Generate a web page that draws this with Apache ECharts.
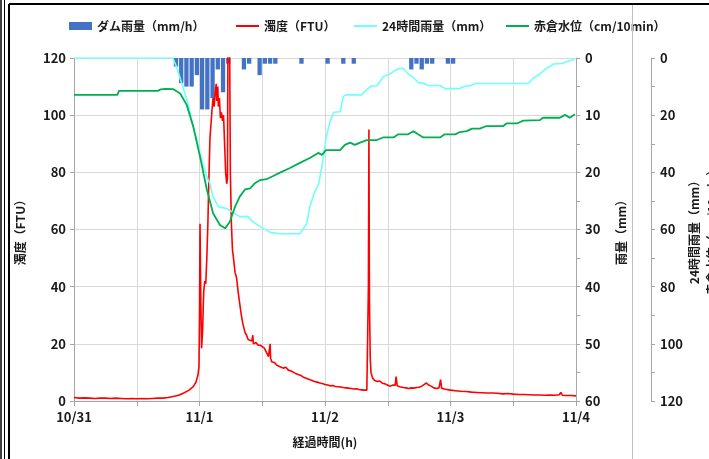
<!DOCTYPE html>
<html>
<head>
<meta charset="utf-8">
<script src="https://cdn.jsdelivr.net/npm/echarts@6/dist/echarts.min.js"></script>
<style>
  html, body { margin: 0; padding: 0; background: #fff; }
  #chart { width: 709px; height: 459px; }
</style>
</head>
<body>
<div id="chart"></div>
<script>
// X axis: hours elapsed since 10/31 00:00, labelled once a day
const dateLabels = ['10/31', '11/1', '11/2', '11/3', '11/4'];

// Hourly dam rainfall (mm/h): hour index and amount
const rainHours = [19, 20, 21, 22, 23, 24, 25, 26, 27, 28, 29, 32, 33, 35, 36, 37, 38, 43, 48, 51, 53, 64, 65, 66, 67, 68, 71, 72];
const rainMm    = [1.5, 4.4, 5, 5, 3, 9, 9, 7, 2, 6, 1, 2, 1, 3, 1, 1, 1, 1, 1, 1, 1, 2, 1, 2, 1, 1, 1, 1];

// Turbidity (FTU)
const turbHours = [0, 1, 2, 3, 4, 5, 6, 7, 8, 9, 10, 11, 12, 13, 14, 15, 16, 17, 18, 19, 20, 21, 22, 22.8, 23.3, 23.7, 23.9,
  24.0, 24.1, 24.25, 24.4, 24.6, 24.8, 25.0, 25.2, 25.4, 25.6, 25.8, 26.0, 26.2, 26.4, 26.6, 26.8, 27.0, 27.2, 27.3, 27.5, 27.6, 27.8,
  28.0, 28.2, 28.4, 28.6, 28.8, 29.0, 29.2, 29.35, 29.45, 29.6, 29.75, 29.9, 30.1, 30.3, 30.5, 30.8, 31.1, 31.4, 31.7, 32.0, 32.3, 32.7,
  33.0, 33.3, 33.6, 34.0, 34.2, 34.3, 34.8, 35.2, 35.6, 36.0, 36.4, 36.8, 37.2, 37.4, 37.5, 37.6, 37.8, 38.3, 38.8, 39.4,
  40, 40.5, 41, 41.5, 42, 42.5, 43, 43.5, 44, 44.5, 45, 45.5, 46, 46.5, 47, 47.5, 48, 48.5, 49, 49.5, 50, 50.5, 51, 51.5, 52, 52.5,
  53, 53.5, 54, 54.5, 55, 55.5, 56, 56.2, 56.3, 56.4, 56.5, 56.65, 56.8, 57.1, 57.5, 58, 58.5, 59, 59.5, 60, 60.5, 61, 61.4, 61.6, 61.8,
  62.3, 63, 63.5, 64, 64.5, 65, 65.5, 66, 66.5, 67, 67.4, 67.8, 68.3, 68.8, 69.3, 69.8, 70.1, 70.3, 71, 72, 73, 74, 75, 76, 77, 78, 79,
  80, 81, 82, 83, 84, 85, 86, 87, 88, 89, 90, 91, 92, 92.8, 93.1, 93.4, 94, 95, 96];
const turbFtu = [1.2, 1.0, 1.1, 1.0, 0.9, 1.0, 1.0, 0.9, 1.0, 0.9, 0.8, 0.9, 0.8, 0.9, 0.8, 0.9, 1.0, 1.0, 1.2, 1.6, 2.0, 2.8, 3.8, 5.0, 6.5, 9, 12,
  30, 62, 35, 18.5, 25, 38, 42, 41, 50, 62, 78, 92, 97, 102, 106, 103, 108, 111, 105, 110, 103, 106,
  99, 101, 98, 100, 90, 80, 76, 78, 130, 135, 128, 80, 62, 53, 50, 45, 43, 38, 34, 30, 27, 24,
  23, 21.5, 22, 21, 23, 20, 20.5, 19.5, 19.5, 19, 18.5, 17, 15.5, 16, 20, 15, 13.7, 13.5, 12.5, 12,
  11.5, 11.8, 10.8, 10.5, 10, 9.5, 9.2, 8.8, 8.2, 7.9, 7.5, 7.2, 6.8, 6.6, 6.3, 6.1, 5.8, 5.6, 5.3, 5.4, 5.1, 5.0, 4.9, 4.7, 4.6, 4.5,
  4.4, 4.2, 4.3, 4.0, 3.9, 3.8, 3.8, 4.0, 40, 95, 35, 15, 10, 8, 7.2, 6.8, 7, 6.2, 6, 5.5, 5.2, 5.6, 5.4, 8.5, 5.3,
  5.0, 4.7, 4.6, 4.4, 4.6, 4.5, 4.7, 4.8, 5.2, 5.8, 6.3, 5.6, 5.2, 4.6, 4.4, 4.6, 7.5, 4.5, 4.1, 3.8, 3.6, 3.4, 3.3, 3.1, 3.0, 2.9, 2.8,
  2.8, 2.7, 2.5, 2.6, 2.4, 2.3, 2.3, 2.2, 2.1, 2.1, 2.0, 2.1, 2.0, 2.2, 3.0, 2.0, 1.9, 1.9, 1.8];

// 24-hour accumulated rainfall (mm)
const rain24Hours = [0, 18.9, 19.6, 20.6, 21.6, 22.5, 23.5, 24.4, 25.4, 26, 26.6, 27.6, 29.2, 30.2, 31.7, 33.3, 34, 35.6, 37.5, 39.4, 43.2,
  44.5, 45.1, 46, 46.8, 47.5, 48.2, 49, 49.7, 50.9, 51.5, 52, 55, 56, 56.9, 57.9, 59.2, 60.4, 61.4, 62.3, 63, 63.9, 64.9, 65.8, 66.8,
  67.8, 70, 71, 73.8, 74.8, 75.7, 76.7, 86.9, 87.8, 88.8, 90.1, 91.7, 93.3, 94.9, 95.8];
const rain24Mm = [0, 0, 3, 8.8, 14.7, 21.7, 28.7, 35.7, 41.5, 44, 48.6, 52, 52.7, 53.8, 55.5, 55.5, 57, 59, 61, 61.5, 61.5,
  58, 52, 47, 44, 37, 28, 22, 19, 18.8, 13.5, 12.9, 12.9, 11, 9.8, 9.8, 6.5, 5.6, 4.4, 3.6, 3.7, 5.6, 6.8, 8.6, 8.8,
  9.6, 9.6, 10.7, 10.7, 9.8, 9.8, 8.9, 8.9, 7.1, 6, 4, 2.1, 1.9, 0.9, 0.5];

// Akakura water level (cm/10min)
const levelHours = [0, 8.3, 8.6, 16, 16.6, 17.5, 19.0, 20.3, 21.55, 22.8, 24.1, 25.4, 26.6, 27.9, 28.9, 29.8, 30.8, 31.7, 32.7, 33.7,
  34.6, 35.6, 36.8, 38.1, 39.4, 41.3, 43.2, 45.1, 46.7, 47.4, 48.2, 49.9, 50.9, 51.8, 52.8, 53.7, 54.7, 56, 57.9, 59.1, 61.1, 62,
  63.9, 64.9, 65.8, 66.8, 70, 70.9, 72.9, 73.8, 75.1, 76.1, 77.6, 78.9, 82.1, 82.7, 84.7, 85.9, 89.1, 89.7, 92.9, 93.9, 94.8, 95.8];
const levelCm = [12.9, 12.9, 11.5, 11.5, 11, 10.8, 10.9, 12.4, 16.4, 24, 34.5, 46, 54.3, 58.4, 59.6, 57.3, 52, 48.5, 46, 45.6,
  43.8, 42.7, 42.4, 41.3, 40.1, 38.5, 36.7, 35, 33.2, 33.9, 32.2, 32.2, 32.2, 30.4, 29.6, 30.4, 29.6, 28.7, 28.7, 27.8, 27.8, 26.7,
  26.7, 25.6, 26.7, 27.8, 27.8, 26.7, 26.7, 25.9, 25.6, 24.7, 24.7, 23.8, 23.8, 22.9, 22.9, 21.9, 21.7, 20.9, 20.9, 19.9, 20.9, 19.7];

// Series names, shared by the legend entries and the series
const seriesNames = ['ダム雨量（mm/h）', '濁度（FTU）', '24時間雨量（mm）', '赤倉水位（cm/10min）'];

const FONT = '"Noto Sans CJK JP", "Noto Sans", sans-serif';
const TEXT = '#1a1a1a';
const AXIS = '#a6a6a6';
const GRID = '#d9d9d9';
const LINE_ICON = 'path://M0,0H23V2H0Z';

const zip = (xs, ys) => xs.map((x, i) => [x, ys[i]]);
const labelStyle = { color: TEXT, fontSize: 13, fontWeight: 'bold', fontFamily: FONT };
const nameStyle = { color: TEXT, fontSize: 12, fontWeight: 'bold', fontFamily: FONT, lineHeight: 18 };

// One legend block per entry so each sits at its own spot along the top
const legendLefts = [64, 231, 349, 501];
const legendIcons = ['rect', LINE_ICON, LINE_ICON, LINE_ICON];
const legends = seriesNames.map((name, i) => ({
  top: 15,
  left: legendLefts[i],
  itemWidth: 23,
  itemHeight: 8,
  textStyle: { color: TEXT, fontSize: 12, fontWeight: 'bold', fontFamily: FONT },
  data: [{ name, icon: legendIcons[i] }]
}));

const chart = echarts.init(document.getElementById('chart'), null, { renderer: 'canvas' });
chart.setOption({
  animation: false,
  backgroundColor: '#fff',
  textStyle: { fontFamily: FONT },
  grid: { left: 74, right: 133, top: 58, bottom: 58, containLabel: false, outerBoundsMode: 'none' },
  legend: legends,
  xAxis: {
    type: 'value',
    min: 0,
    max: 96,
    interval: 12,
    name: '経過時間(h)',
    nameLocation: 'middle',
    nameGap: 32,
    nameTextStyle: nameStyle,
    axisLine: { show: true, lineStyle: { color: AXIS, width: 1 } },
    axisTick: { show: true, length: 5, lineStyle: { color: AXIS } },
    axisLabel: {
      ...labelStyle,
      margin: 10,
      showMinLabel: true,
      showMaxLabel: true,
      formatter: v => (v % 24 === 0 ? dateLabels[v / 24] : '')
    },
    splitLine: { show: true, lineStyle: { color: GRID, width: 1 } }
  },
  yAxis: [
    {
      type: 'value',
      min: 0,
      max: 120,
      interval: 20,
      name: '濁度（FTU）',
      nameLocation: 'middle',
      nameRotate: 90,
      nameGap: 45,
      nameTextStyle: nameStyle,
      axisLine: { show: true, lineStyle: { color: AXIS } },
      axisTick: { show: true, length: 4, lineStyle: { color: AXIS } },
      axisLabel: { ...labelStyle, margin: 8 },
      splitLine: { show: true, lineStyle: { color: GRID, width: 1 } }
    },
    {
      type: 'value',
      position: 'right',
      inverse: true,
      min: 0,
      max: 60,
      interval: 10,
      name: '雨量（mm）',
      nameLocation: 'middle',
      nameRotate: 90,
      nameGap: 36,
      nameTextStyle: nameStyle,
      axisLine: { show: true, lineStyle: { color: AXIS } },
      axisTick: { show: true, length: 4, lineStyle: { color: AXIS } },
      minorTick: { show: true, splitNumber: 2, length: 4, lineStyle: { color: AXIS } },
      axisLabel: { ...labelStyle, margin: 9 },
      splitLine: { show: false }
    },
    {
      type: 'value',
      position: 'right',
      offset: 75,
      inverse: true,
      min: 0,
      max: 120,
      interval: 20,
      name: '24時間雨量（mm）\n赤倉水位（cm/10min）',
      nameLocation: 'middle',
      nameRotate: 90,
      nameGap: 34,
      nameMoveOverlap: false,
      nameTextStyle: nameStyle,
      axisLine: { show: true, lineStyle: { color: AXIS } },
      axisTick: { show: true, length: 4, lineStyle: { color: AXIS } },
      minorTick: { show: true, splitNumber: 2, length: 4, lineStyle: { color: AXIS } },
      axisLabel: { ...labelStyle, margin: 9 },
      splitLine: { show: false }
    }
  ],
  series: [
    {
      name: seriesNames[0],
      type: 'bar',
      yAxisIndex: 1,
      barWidth: 4.3,
      itemStyle: { color: '#4472C4' },
      data: rainHours.map((h, i) => [h + 0.5, rainMm[i]])
    },
    {
      name: seriesNames[1],
      type: 'line',
      yAxisIndex: 0,
      symbol: 'none',
      clip: true,
      lineStyle: { color: '#FF0000', width: 1.6 },
      itemStyle: { color: '#FF0000' },
      data: zip(turbHours, turbFtu)
    },
    {
      name: seriesNames[2],
      type: 'line',
      yAxisIndex: 2,
      symbol: 'none',
      lineStyle: { color: '#6FFFFF', width: 1.6 },
      itemStyle: { color: '#6FFFFF' },
      data: zip(rain24Hours, rain24Mm)
    },
    {
      name: seriesNames[3],
      type: 'line',
      yAxisIndex: 2,
      symbol: 'none',
      lineStyle: { color: '#00B050', width: 1.8 },
      itemStyle: { color: '#00B050' },
      data: zip(levelHours, levelCm)
    }
  ],
  graphic: [
    { type: 'line', z: 100, shape: { x1: 1, y1: 0, x2: 1, y2: 459 }, style: { stroke: '#000', lineWidth: 1.5 } },
    { type: 'line', z: 100, shape: { x1: 4.5, y1: 0, x2: 4.5, y2: 459 }, style: { stroke: '#000', lineWidth: 1 } },
    { type: 'line', z: 100, shape: { x1: 9, y1: 4, x2: 9, y2: 459 }, style: { stroke: '#000', lineWidth: 2 } },
    { type: 'line', z: 100, shape: { x1: 9, y1: 4, x2: 709, y2: 4 }, style: { stroke: '#000', lineWidth: 2 } },
    { type: 'line', z: 100, shape: { x1: 632.5, y1: 5, x2: 632.5, y2: 459 }, style: { stroke: '#bfbfbf', lineWidth: 1 } }
  ]
});
</script>
</body>
</html>
